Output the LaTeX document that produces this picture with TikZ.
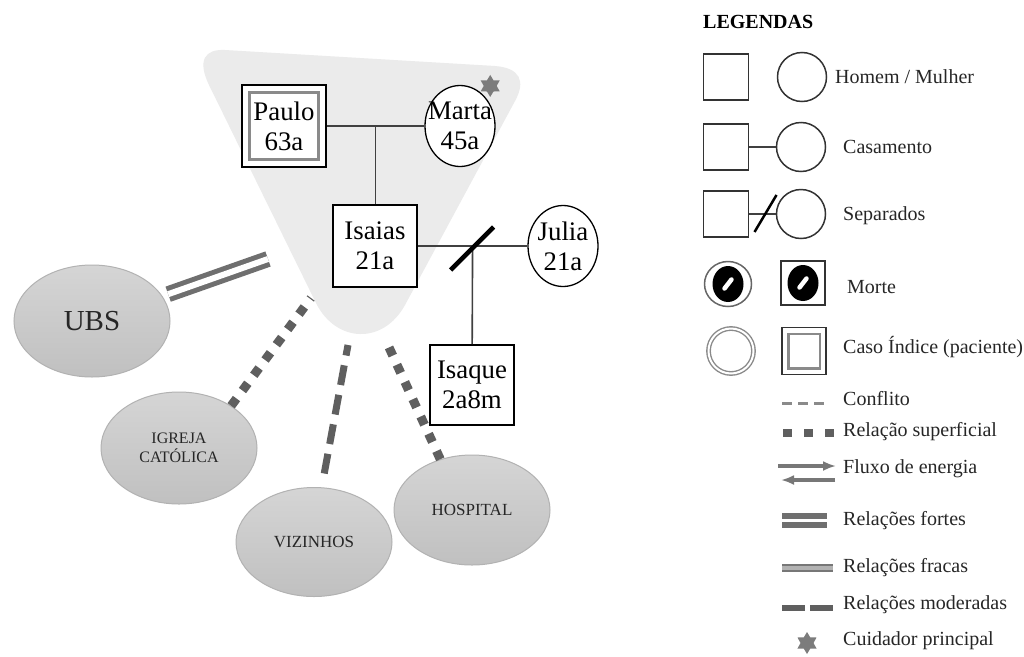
\documentclass[tikz,border=0pt]{standalone}
\usepackage{fontspec}
\setmainfont{Liberation Serif}
\usetikzlibrary{shapes,arrows,arrows.meta,positioning,calc}
\definecolor{blobgray}{HTML}{EBEBEB}
\definecolor{relgray}{HTML}{5F5F5F}
\definecolor{ringgray}{HTML}{8A8A8A}
\definecolor{ellborder}{HTML}{B2B2B2}
\definecolor{elltop}{HTML}{D5D5D5}
\definecolor{ellbot}{HTML}{C0C0C0}
\tikzset{
man/.style = {draw, fill=white, rectangle, line width=1.6pt, minimum width=84pt, minimum height=82pt, inner sep=0pt, align=center, font=\fontsize{26.8}{30}\selectfont},
woman/.style = {draw, fill=white, ellipse, line width=1.3pt, minimum width=70pt, minimum height=81pt, inner xsep=-9pt, inner ysep=0pt, align=center, font=\fontsize{26.8}{30}\selectfont},
network/.style = {ellipse, draw=ellborder, line width=1pt, top color=elltop, bottom color=ellbot, minimum width=156pt, minimum height=112pt, align=center, text=black!85, font=\fontsize{17}{19}\selectfont},
carer/.style = {star, star points=6, star point ratio=1.7, fill=ringgray!90!black, minimum size=22pt, inner sep=0pt},
famline/.style = {draw=black!75, line width=1.6pt},
sepline/.style = {black, line width=4.5pt},
idxline/.style = {draw=ringgray, line width=3pt},
strong/.style = {draw=relgray!90, line width=5pt, double=white, double distance=6pt},
superficial/.style = {relgray, line width=9pt, dash pattern=on 9pt off 10pt},
moderate/.style = {relgray, line width=7pt, dash pattern=on 20pt off 10pt},
conflict/.style = {ringgray, line width=3pt, dash pattern=on 10pt off 6pt},
energy/.style = {-{Latex[length=13pt, width=10pt]}, relgray!85, line width=3.5pt},
weak/.style = {draw=relgray!85, line width=2pt, double=black!30, double distance=4pt},
lgman/.style = {draw=black!80, fill=white, rectangle, line width=1.5pt, minimum width=45pt, minimum height=46pt, inner sep=0pt},
lgwoman/.style = {draw=black!80, fill=white, circle, line width=1.5pt, minimum size=49pt, inner sep=0pt},
deathmark/.style = {ellipse, fill=black, minimum width=31pt, minimum height=36pt, inner sep=0pt},
deathbar/.style = {white, line width=4.5pt, line cap=round},
lgtext/.style = {anchor=west, inner sep=0pt, text=black!85, font=\fontsize{20}{22}\selectfont}
}
\begin{document}
\begin{tikzpicture}[x=1pt, y=-1pt, node distance=76pt, >=latex']
					\path[use as bounding box, fill=white] (0,0) rectangle (1024,656);
					\fill[blobgray] (225,50) -- (495,66) .. controls (520,68) and (526,81) .. (515,101) -- (405,305) .. controls (383,345) and (336,343) .. (316,303) -- (209,85) .. controls (197,60) and (205,49) .. (225,50) -- cycle;
					\node[man] (paulo) at (284,126) {Paulo\\63a};
					\node[woman, right of=paulo, node distance=176pt] (marta) {Marta\\45a};
					\node[man] (isaias) at (375,246) {Isaias\\21a};
					\node[woman, right of=isaias, node distance=188pt] (julia) {Julia\\21a};
					\node[man, minimum height=80pt] (isaque) at (472,385) {Isaque\\2a8m};
					\node[carer] (cuidador) at ($(marta.north east)+(5,-11)$) {};
					\draw[idxline] ($(paulo.north west)+(8,8)$) rectangle ($(paulo.south east)+(-8,-8)$);
					\draw[famline] (paulo) -- (marta);
					\coordinate (casal) at ($(paulo.east)!0.5!(marta.west)$);
					\draw[famline] (casal) -- (casal |- isaias.north);
					\draw[famline] (isaias) -- (julia);
					\coordinate (separa) at ($(isaias.east)!0.5!(julia.west)$);
					\draw[famline] (separa) -- (isaque);
					\draw[sepline] ($(separa)+(-22,24)$) -- ($(separa)+(21,-19)$);
					\node[network, font=\fontsize{29}{30}\selectfont] (ubs) at (92,321) {UBS};
					\node[network, font=\fontsize{16}{19}\selectfont] (igreja) at (179,448) {IGREJA\\CATÓLICA};
					\node[network, minimum height=109pt] (vizinhos) at (314,542) {VIZINHOS};
					\node[network, minimum height=110pt] (hospital) at (472,510) {HOSPITAL};
					\coordinate (famUBS) at (268,259);
					\coordinate (famIgreja) at (311,298);
					\coordinate (famViz) at (348,345);
					\coordinate (famHosp) at (387,343);
					\draw[strong, shorten <=6pt] (ubs) -- (famUBS);
					\draw[superficial] (igreja.39) -- (famIgreja);
					\draw[moderate, shorten <=14pt] (vizinhos.82) -- (famViz);
					\draw[superficial] (hospital.122) -- (famHosp);
					\node[anchor=west, inner sep=0pt, font=\bfseries\fontsize{20}{22}\selectfont] (lgTitulo) at (703,22) {LEGENDAS};
					\node[lgman] (lgHomem) at (726,77) {};
					\node[lgwoman, right of=lgHomem] (lgMulher) {};
					\node[lgtext] (tHomem) at (835,77) {Homem / Mulher};
					\node[lgman] (lgCasH) at (726,147) {};
					\node[lgwoman, right of=lgCasH, node distance=75pt] (lgCasM) {};
					\draw[famline] (lgCasH) -- (lgCasM);
					\node[lgtext] (tCasamento) at (843,147) {Casamento};
					\node[lgman] (lgSepH) at (726,214) {};
					\node[lgwoman, right of=lgSepH, node distance=75pt] (lgSepM) {};
					\draw[famline] (lgSepH) -- (lgSepM);
					\coordinate (lgSep) at ($(lgSepH.east)!0.5!(lgSepM.west)$);
					\draw[black, line width=2.5pt] ($(lgSep)+(-8,18)$) -- ($(lgSep)+(14,-19)$);
					\node[lgtext] (tSeparados) at (843,216) {Separados};
					\node[lgwoman, ellipse, draw=black!60, minimum width=47pt, minimum height=45pt] (lgMorteM) at (728,284) {};
					\node[deathmark] (lgMorteMx) at (lgMorteM) {};
					\draw[deathbar] ($(lgMorteMx)+(-3.5,4.5)$) -- ($(lgMorteMx)+(3.5,-4.5)$);
					\node[lgman, minimum width=44pt, minimum height=44pt] (lgMorteH) at (803,283) {};
					\node[deathmark] (lgMorteHx) at (lgMorteH) {};
					\draw[deathbar] ($(lgMorteHx)+(-3.5,4.5)$) -- ($(lgMorteHx)+(3.5,-4.5)$);
					\node[lgtext] (tMorte) at (847,287) {Morte};
					\node[lgwoman, draw=ringgray, double=white, double distance=2pt, line width=1.4pt, minimum size=45pt] (lgIndiceM) at (731,351) {};
					\node[lgman, minimum width=44pt, minimum height=47pt] (lgIndiceH) at (804,351) {};
					\draw[idxline, line width=2.5pt] ($(lgIndiceH.north west)+(7,7)$) rectangle ($(lgIndiceH.south east)+(-7,-7)$);
					\node[lgtext] (tIndice) at (843,347) {Caso Índice (paciente)};
					\coordinate (cfA) at (782,403);
					\coordinate (cfB) at (824,403);
					\draw[conflict] (cfA) -- (cfB);
					\node[lgtext] (tConflito) at (843,399) {Conflito};
					\coordinate (sfA) at (783,433);
					\coordinate (sfB) at (834,433);
					\draw[superficial, line width=8.5pt, dash pattern=on 8.5pt off 12.5pt] (sfA) -- (sfB);
					\node[lgtext] (tSuperficial) at (843,432) {Relação superficial};
					\coordinate (flA) at (778,466);
					\coordinate (flB) at (836,466);
					\coordinate (flC) at (835,480);
					\coordinate (flD) at (781,480);
					\draw[energy] (flA) -- (flB);
					\draw[energy] (flC) -- (flD);
					\node[lgtext] (tFluxo) at (843,469) {Fluxo de energia};
					\coordinate (foA) at (782,520.5);
					\coordinate (foB) at (827,520.5);
					\draw[strong, line width=6pt, double distance=3pt] (foA) -- (foB);
					\node[lgtext] (tFortes) at (843,521) {Relações fortes};
					\coordinate (frA) at (782,567.5);
					\coordinate (frB) at (833,567.5);
					\draw[weak] (frA) -- (frB);
					\node[lgtext] (tFracas) at (843,568) {Relações fracas};
					\coordinate (moA) at (782,608);
					\coordinate (moB) at (833,608);
					\draw[moderate, line width=5.5pt, dash pattern=on 23pt off 5pt] (moA) -- (moB);
					\node[lgtext] (tModeradas) at (843,605) {Relações moderadas};
					\node[carer] (lgCuidador) at (807,643) {};
					\node[lgtext] (tCuidador) at (843,641) {Cuidador principal};
				\end{tikzpicture}
\end{document}
